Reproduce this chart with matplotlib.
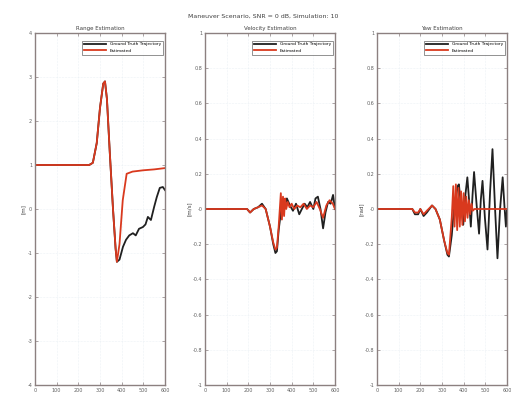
import numpy as np
from matplotlib import pyplot as plt

# range panel
rangeTruthX = [0, 100, 200, 250, 267, 285, 300, 315, 323, 332, 345, 360, 372, 378, 390, 406, 420,
               435, 452, 465, 480, 498, 510, 521, 535, 550, 562, 576, 590, 600]
rangeTruthY = [1.0, 1.0, 1.0, 1.0, 1.05, 1.5, 2.3, 2.85, 2.9, 2.5, 1.3, 0.0, -0.9, -1.2, -1.15, -0.86, -0.7,
               -0.6, -0.55, -0.6, -0.45, -0.41, -0.35, -0.18, -0.25, 0.05, 0.27, 0.48, 0.5, 0.43]
rangeEstX = [0, 100, 200, 250, 267, 285, 300, 315, 323, 332, 345, 360, 372, 378, 390, 405, 423,
             450, 500, 550, 600]
rangeEstY = [1.0, 1.0, 1.0, 1.0, 1.05, 1.5, 2.3, 2.85, 2.9, 2.5, 1.3, 0.0, -0.9, -1.2, -0.8, 0.2, 0.8,
             0.85, 0.88, 0.9, 0.93]

# velocity panel
velTruthX = [0, 100, 194, 208, 225, 245, 263, 280, 300, 315, 325, 332, 340, 355, 365, 378, 392, 406,
             420, 435, 447, 460, 472, 485, 500, 510, 521, 533, 545, 556, 568, 580, 591, 600]
velTruthY = [0, 0, 0, -0.02, 0.0, 0.01, 0.03, 0.0, -0.1, -0.2, -0.25, -0.24, -0.12, 0.03, 0.0, 0.06, 0.02, -0.01,
             0.03, -0.03, 0.0, 0.03, 0.01, 0.04, 0.0, 0.06, 0.07, 0.0, -0.11, -0.02, 0.04, 0.03, 0.08, 0.0]
velEstX = [0, 100, 194, 208, 225, 245, 263, 280, 300, 315, 325, 332, 340, 350, 355, 360, 365, 370, 375,
           382, 390, 400, 412, 425, 440, 455, 470, 485, 500, 515, 530, 545, 560, 575, 590, 600]
velEstY = [0, 0, 0, -0.02, 0.0, 0.01, 0.02, 0.0, -0.1, -0.19, -0.23, -0.22, -0.1, 0.09, -0.06, 0.07, -0.04, 0.06, 0.0,
           0.04, 0.01, 0.03, 0.0, 0.02, 0.01, 0.03, 0.0, 0.02, 0.01, 0.04, 0.0, -0.05, 0.02, 0.05, 0.03, 0.0]

# yaw panel
yawTruthX = [0, 100, 163, 175, 190, 200, 215, 230, 254, 270, 290, 310, 325, 332, 345, 355, 363, 372, 378,
             385, 398, 408, 417, 425, 433, 441, 448, 460, 471, 479, 487, 498, 510, 522, 533, 545, 556,
             568, 580, 588, 595, 600]
yawTruthY = [0, 0, 0, -0.03, -0.03, 0.0, -0.04, -0.02, 0.02, 0.0, -0.06, -0.18, -0.26, -0.27, -0.15, 0.0, 0.05, 0.13, 0.14,
             0.05, -0.09, 0.08, 0.18, 0.05, -0.1, 0.08, 0.21, 0.02, -0.14, 0.05, 0.16, -0.05, -0.23, 0.1, 0.34, 0.0, -0.28,
             0.0, 0.18, 0.02, -0.1, 0.0]
yawEstX = [0, 100, 163, 175, 190, 200, 215, 230, 254, 270, 290, 310, 325, 332, 345, 352, 358, 364, 370,
           376, 382, 388, 394, 400, 406, 412, 418, 424, 430, 436, 442, 450, 500, 550, 600]
yawEstY = [0, 0, 0, -0.02, -0.02, 0.0, -0.03, -0.01, 0.02, 0.0, -0.06, -0.18, -0.25, -0.26, -0.05, 0.13, -0.1, 0.14, -0.12,
           0.12, -0.1, 0.1, -0.09, 0.09, -0.07, 0.07, -0.05, 0.05, -0.03, 0.03, -0.01, 0.0, 0.0, 0.0, 0.0]

panels = [
    ('Range Estimation', '[m]', rangeTruthX, rangeTruthY, rangeEstX, rangeEstY, (-4, 4), np.arange(-4, 5, 1)),
    ('Velocity Estimation', '[m/s]', velTruthX, velTruthY, velEstX, velEstY, (-1, 1), np.arange(-1, 1.01, 0.2)),
    ('Yaw Estimation', '[rad]', yawTruthX, yawTruthY, yawEstX, yawEstY, (-1, 1), np.arange(-1, 1.01, 0.2)),
]
lefts = [35/511, 205/511, 377/511]

fig = plt.figure(figsize=(5.11, 4.03), dpi=100)
frameColor = '#8c8080'

for left, (title, ylab, tx, ty, ex, ey, ylim, yt) in zip(lefts, panels):
    ax = fig.add_axes([left, 18/403, 130/511, 352/403])
    ax.plot(tx, ty, color='#202020', lw=1.3, label='Ground Truth Trajectory')
    ax.plot(ex, ey, color='#d9391e', lw=1.3, label='Estimated')
    ax.set_xlim(0, 600)
    ax.set_ylim(*ylim)
    ax.set_xticks(np.arange(0, 601, 100))
    ax.set_yticks(yt)
    ax.set_yticklabels(['%g' % round(v, 1) for v in yt])
    ax.tick_params(direction='in', top=True, right=True, labelsize=3.5, length=2, width=0.5,
                   colors=frameColor, labelcolor='#606060', pad=2)
    for sp in ax.spines.values():
        sp.set_color(frameColor)
        sp.set_linewidth(1.0)
    ax.grid(True, color='#dde6ee', lw=0.4, ls=':')
    ax.set_title(title, fontsize=4, color='#404040', pad=2)
    ax.set_ylabel(ylab, fontsize=4, color='#404040', labelpad=1)
    leg = ax.legend(loc='upper right', fontsize=3.2, frameon=True, fancybox=False,
                    edgecolor='#404040', handlelength=5, borderpad=0.4, labelspacing=0.5,
                    bbox_to_anchor=(1.0, 0.985))
    leg.get_frame().set_linewidth(0.5)

fig.text(0.515, 1 - 16/403, 'Maneuver Scenario, SNR = 0 dB, Simulation: 10', ha='center', va='center',
         fontsize=4.5, color='#404040')

plt.savefig('out.png', dpi=100)
